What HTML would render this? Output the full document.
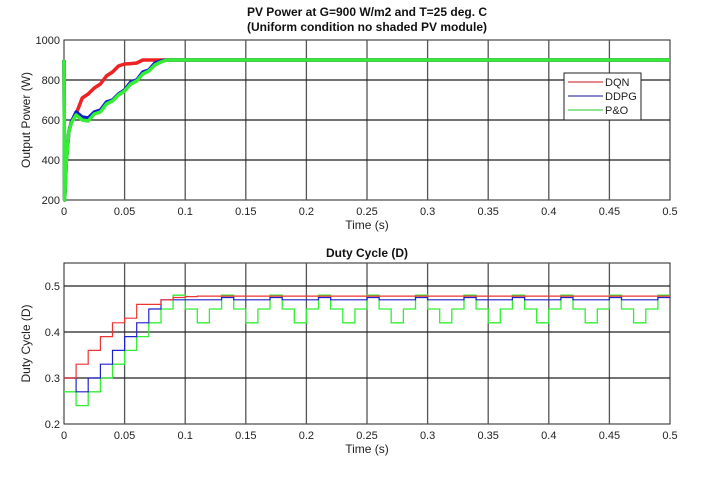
<!DOCTYPE html>
<html><head><meta charset="utf-8"><style>
body{margin:0;background:#fff;}
svg text{font-family:"Liberation Sans",sans-serif;}
</style></head><body>
<svg id="c" width="713" height="472" viewBox="0 0 713 472" xmlns="http://www.w3.org/2000/svg"></svg>
<script>
// ---- data ----
const powerT = [0,0.0005,0.002,0.004,0.006,0.01,0.015,0.02,0.025,0.03,0.035,0.04,0.045,0.05,0.055,0.06,0.065,0.07,0.075,0.08,0.085,0.1,0.5];
const powerDQN = [900,200,400,540,590,630,710,730,760,780,820,840,870,880,882,885,900,900,900,900,900,900,900];
const powerDDPG= [900,200,400,540,590,640,615,610,640,650,690,700,730,750,790,800,840,850,885,895,900,900,900];
const powerPO  = [900,200,400,540,585,625,600,595,630,640,680,695,725,745,780,795,830,845,875,890,900,900,900];
const dutyDQN = [0.30,0.33,0.36,0.39,0.42,0.43,0.46,0.46,0.47,0.475,0.477,0.478];
const dutyDDPG = [0.30,0.27,0.30,0.33,0.36,0.39,0.42,0.45,0.47,0.47];
const dutyPOstart = [0.27,0.24,0.27,0.30,0.33,0.36,0.39,0.42,0.45,0.48];
const dutyPOcycle = [0.45,0.42,0.45,0.48];
const xTicks = [0,0.05,0.1,0.15,0.2,0.25,0.3,0.35,0.4,0.45,0.5];
const pTicks = [200,400,600,800,1000];
const dTicks = [0.2,0.3,0.4,0.5];

const svg=document.getElementById('c');
const NS='http://www.w3.org/2000/svg';
function mk(tag,attrs,parent){const e=document.createElementNS(NS,tag);for(const k in attrs)e.setAttribute(k,attrs[k]);(parent||svg).appendChild(e);return e;}
const X0=64,X1=670;
const sx=t=>X0+(t/0.5)*(X1-X0);
const sp=v=>200-(v-200)*(160/800);
const sd=v=>424-(v-0.2)*460;

function axes(top,bot,ticks,sy,fmt,name,ylabel,title,titleY,title2){
  const g=mk('g',{});
  
  
  mk('rect',{x:X0,y:top,width:X1-X0,height:bot-top,fill:'#fff',stroke:'#222','stroke-width':1},g);
  xTicks.forEach(t=>{
    const x=sx(t);
    if(t>0&&t<0.5)mk('line',{x1:x,y1:top,x2:x,y2:bot,stroke:'#555','stroke-width':1.3},g);
    const tx=mk('text',{x:x,y:bot+15,'font-size':11,'text-anchor':'middle',fill:'#222'},g);
    tx.textContent=String(t);
  });
  ticks.forEach(v=>{
    const y=sy(v);
    if(y>top+1&&y<bot-1)mk('line',{x1:X0,y1:y,x2:X1,y2:y,stroke:'#222','stroke-width':1.3},g);
    const tx=mk('text',{x:X0-4,y:y+4,'font-size':11,'text-anchor':'end',fill:'#222'},g);
    tx.textContent=fmt(v);
  });
  const xl=mk('text',{x:367,y:bot+29,'font-size':12,'text-anchor':'middle',fill:'#222'},g);
  
  xl.textContent='Time (s)';
  const cy=(top+bot)/2;
  const yl=mk('text',{x:30,y:cy,'font-size':12,'text-anchor':'middle',fill:'#222',transform:`rotate(-90 30 ${cy})`},g);
  
  yl.textContent=ylabel;
  const tt=mk('text',{x:367,y:titleY,'font-size':12,'font-weight':'bold','text-anchor':'middle',fill:'#111'},g);
  
  tt.textContent=title;
  if(title2){const t2=mk('text',{x:367,y:titleY+15,'font-size':12,'font-weight':'bold','text-anchor':'middle',fill:'#111'},g);
    t2.textContent=title2;}
}
axes(40,200,pTicks,sp,v=>String(v),'power-axes','Output Power (W)','PV Power at G=900 W/m2 and T=25 deg. C',16,'(Uniform condition no shaded PV module)');
axes(263,424,dTicks,sd,v=>v.toFixed(1),'duty-axes','Duty Cycle (D)','Duty Cycle (D)',257,null);

function pline(vals,color,w,name){
  const d=powerT.map((t,i)=>(i?'L':'M')+sx(t).toFixed(1)+' '+sp(vals[i]).toFixed(1)).join(' ');
  const p=mk('path',{d:d,fill:'none',stroke:color,'stroke-width':w,'stroke-linejoin':'round'});
  
}
pline(powerDQN,'#ee2222',3.5,'power-dqn-line');
pline(powerDDPG,'#1020cc',3.5,'power-ddpg-line');
pline(powerPO,'#33ee33',3.5,'power-po-line');

function stepSeries(n,getV){
  let d='';
  for(let k=0;k<n;k++){
    const v=getV(k),x0=sx(k*0.01),x1=sx((k+1)*0.01),y=sd(v);
    d+=(k?'L':'M')+x0.toFixed(1)+' '+y.toFixed(1)+' L'+x1.toFixed(1)+' '+y.toFixed(1)+' ';
  }
  return d;
}
const N=50;
const po=k=>k<dutyPOstart.length?dutyPOstart[k]:dutyPOcycle[(k-dutyPOstart.length)%4];
const p1=mk('path',{d:stepSeries(N,po),fill:'none',stroke:'#33ee33','stroke-width':1.3});

const ddpg=k=>{if(k<dutyDDPG.length)return dutyDDPG[k];return po(k)>=0.48?0.475:0.47;};
const p2=mk('path',{d:stepSeries(N,ddpg),fill:'none',stroke:'#2222cc','stroke-width':1.2});

const dqn=k=>k<dutyDQN.length?dutyDQN[k]:dutyDQN[dutyDQN.length-1];
const p3=mk('path',{d:stepSeries(N,dqn),fill:'none',stroke:'#ee3333','stroke-width':1.2});


// legend
const lg=mk('g',{});

mk('rect',{x:564,y:73,width:77,height:47,fill:'#fff',stroke:'#222','stroke-width':1},lg);
[['DQN','#cc1111',82],['DDPG','#111199',96],['P&O','#22cc22',110]].forEach(([n,c,y])=>{
  const e=mk('g',{},lg);
  
  mk('line',{x1:568,y1:y,x2:603,y2:y,stroke:c,'stroke-width':1},e);
  const t=mk('text',{x:605,y:y+4,'font-size':11,fill:'#222'},e);t.textContent=n;
});
</script>
</body></html>
